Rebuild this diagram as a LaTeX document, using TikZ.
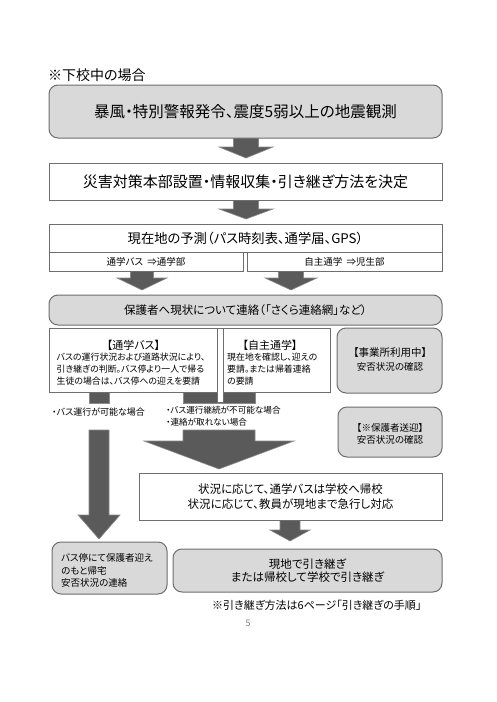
\documentclass[tikz,border=0pt]{standalone}
\usepackage{fontspec}
\setmainfont{Noto Sans CJK JP}[RawFeature=+palt]
\definecolor{boxgray}{HTML}{D9D9D9}
\definecolor{edgegray}{HTML}{6E6E6E}
\definecolor{arrowgray}{HTML}{5A5A5A}
\definecolor{arrowedge}{HTML}{8A8A8A}
\definecolor{pagegray}{HTML}{808080}
\tikzset{
  whitebox/.style={draw=edgegray, fill=white, line width=0.9pt, inner sep=0pt},
  grayround/.style={draw=edgegray, fill=boxgray, line width=1pt, rounded corners=9pt, inner sep=0pt},
  blk/.style={fill=arrowgray, draw=arrowedge, line width=0.6pt},
  txt/.style={inner sep=0pt, text=black},
}
\newcommand{\fs}[2]{\fontsize{#1}{#2}\selectfont}
\newcommand{\blkarrow}[6]{\filldraw[blk] ({#1-#5},#2) -- ({#1+#5},#2) -- ({#1+#5},#3) -- ({#1+#6},#3) -- (#1,#4) -- ({#1-#6},#3) -- ({#1-#5},#3) -- cycle;}
\begin{document}
\begin{tikzpicture}[x=1pt,y=-1pt]
\useasboundingbox (0,0) rectangle (496,702);
\fill[white] (0,0) rectangle (496,702);

% block arrows (drawn first, behind boxes)
\blkarrow{246}{138}{147}{158}{12.5}{27}
\blkarrow{246}{200}{209}{219}{12.5}{27}
\blkarrow{142}{271}{278}{290}{11.5}{25}
\blkarrow{291}{271}{278}{290}{12.5}{26}
% left long arrow
\filldraw[blk] (89,392) rectangle (109,403);
\blkarrow{99}{430}{515}{539}{10}{21}
% middle big arrow
\filldraw[blk] (183,392) rectangle (255,403);
\blkarrow{219}{430}{441}{469}{36}{75}
% arrow under situation box
\blkarrow{290}{520}{530}{541}{10}{20}

% title
\node[txt, anchor=west, font={\fs{14}{16}}] (title) at (48,75) {※下校中の場合};

% boxes
\node[grayround, minimum width=393pt, minimum height=53pt, font={\fs{15.5}{18}}] (b1) at (245.5,111.5) {暴風・特別警報発令、震度5弱以上の地震観測};
\node[whitebox, minimum width=393pt, minimum height=37pt, font={\fs{15}{17}}] (b2) at (245.5,181.5) {災害対策本部設置・情報収集・引き継ぎ方法を決定};
\node[whitebox, minimum width=393pt, minimum height=28pt, font={\fs{13.3}{15}}] (b3) at (245.5,238) {現在地の予測（パス時刻表、通学届、GPS）};
\node[whitebox, minimum width=194pt, minimum height=19pt, font={\fs{9.5}{11}}] (b3a) at (146,261.5) {通学バス\ \ ⇒通学部};
\node[whitebox, minimum width=195pt, minimum height=19pt, font={\fs{9.5}{11}}] (b3b) at (344.5,261.5) {自主通学\ \ ⇒児生部};
\node[grayround, minimum width=393pt, minimum height=30pt, font={\fs{11.5}{14}}] (b4) at (245.5,310) {保護者へ現状について連絡（「さくら連絡網」など）};

\node[whitebox, minimum width=6pt, minimum height=74pt] (strip) at (220,365) {};
\node[whitebox, minimum width=168pt, minimum height=64pt] (bbus) at (133,360) {};
\node[whitebox, minimum width=107pt, minimum height=64pt] (bself) at (276.5,360) {};
\node[txt, font={\fs{11}{13}}] (bbust) at (133.5,345) {【通学バス】};
\node[txt, anchor=west, align=left, font={\fs{8.9}{12}}] (bbusb) at (56.5,369) {バスの運行状況および道路状況により、\\引き継ぎの判断。バス停より一人で帰る\\生徒の場合は、バス停への迎えを要請};
\node[txt, font={\fs{11}{13}}] (bselft) at (270,345) {【自主通学】};
\node[txt, anchor=west, align=left, font={\fs{8.9}{12}}] (bselfb) at (227,369) {現在地を確認し、迎えの\\要請。または帰着連絡\\の要請};

\node[grayround, minimum width=105pt, minimum height=65pt] (boffice) at (389.5,360.5) {};
\node[txt, font={\fs{10.5}{12}}] (bofficet) at (390,353) {【事業所利用中】};
\node[txt, font={\fs{9.5}{11}}] (bofficeb) at (390,366.5) {安否状況の確認};

\node[grayround, minimum width=104pt, minimum height=50pt] (bpick) at (390,432) {};
\node[txt, font={\fs{9.5}{11}}] (bpickt) at (390,427.5) {【※保護者送迎】};
\node[txt, font={\fs{9.5}{11}}] (bpickb) at (390,439.5) {安否状況の確認};

% labels between arrows
\node[txt, anchor=west, font={\fs{9}{11}}] (lab1) at (52,412) {・バス運行が可能な場合};
\node[txt, anchor=west, align=left, font={\fs{8.6}{12}}] (lab2) at (166,416) {・バス運行継続が不可能な場合\\・連絡が取れない場合};

\node[whitebox, minimum width=303pt, minimum height=47pt, align=center, font={\fs{11.5}{15}}] (bsit) at (290.5,496.5) {状況に応じて、通学バスは学校へ帰校\\状況に応じて、教員が現地まで急行し対応};

\node[grayround, minimum width=115pt, minimum height=52pt] (bleft) at (109.5,568) {};
\node[txt, anchor=west, align=left, font={\fs{9.5}{12.5}}] (bleftt) at (61,570.5) {バス停にて保護者迎え\\のもと帰宅\\安否状況の連絡};
\node[grayround, minimum width=269pt, minimum height=43pt, align=center, font={\fs{11.5}{13}}] (bright) at (307.5,570.5) {現地で引き継ぎ\\または帰校して学校で引き継ぎ};

\node[txt, anchor=west, font={\fs{11}{13}}] (note) at (212,605) {※引き継ぎ方法は6ページ「引き継ぎの手順」};
\node[txt, text=pagegray, font={\fs{9}{11}}] (pnum) at (248,623) {5};
\end{tikzpicture}
\end{document}
